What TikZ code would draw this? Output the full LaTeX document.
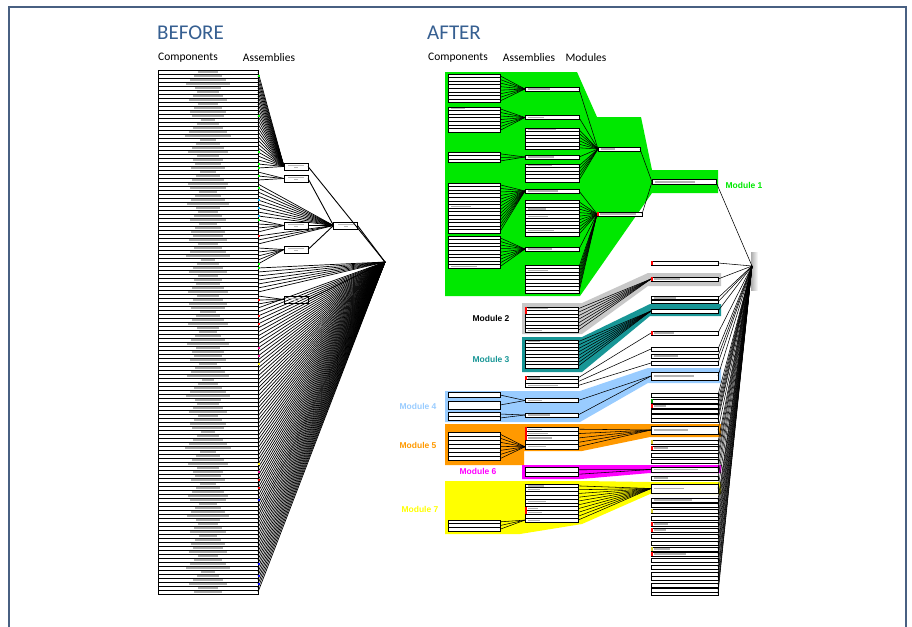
\documentclass[tikz,border=0pt]{standalone}
\usepackage{fontspec}
\setmainfont{Carlito}
\newfontfamily\modfont{Liberation Sans}
\usepackage{xcolor}
\usepackage{tikz}
\usetikzlibrary{positioning,calc}
\definecolor{titleblue}{RGB}{54,95,145}
\definecolor{framec}{RGB}{72,96,130}
\definecolor{modgreen}{RGB}{0,232,0}
\definecolor{modgray}{RGB}{200,200,200}
\definecolor{modteal}{RGB}{24,150,150}
\definecolor{modblue}{RGB}{153,204,255}
\definecolor{modorange}{RGB}{255,153,0}
\definecolor{modmagenta}{RGB}{255,0,255}
\definecolor{modyellow}{RGB}{255,255,0}
\tikzset{
  part/.style={draw=black, line width=0.8pt, fill=white, minimum width=#1,
               minimum height=4, inner sep=0pt, outer sep=0pt, anchor=north west},
  part/.default=52,
  asm/.style={draw=black, line width=0.7pt, fill=white, minimum width=24,
              minimum height=7, inner sep=0pt, outer sep=0pt},
  wire/.style={line width=0.55pt},
  fanwire/.style={line width=0.7pt},
  title/.style={font=\fontsize{21}{24}\selectfont, text=titleblue, anchor=west, inner sep=0pt},
  head/.style={font=\fontsize{11.5}{13}\selectfont, inner sep=0pt},
  modlabel/.style={font=\modfont\bfseries\fontsize{8.5}{10}\selectfont, text=#1, inner sep=0pt},
}
% stack of parts: name, x, top, count, width, row height
\newcommand{\partstack}[6]{%
  \foreach \k in {1,...,#4}{%
    \node[part=#5, minimum height=#6] (#1\k) at (#2,{#3+(\k-1)*#6}) {};}}

\begin{document}
\begin{tikzpicture}[x=1pt, y=-1pt]
\useasboundingbox (0,0) rectangle (912,626);

% Frame
\draw[framec, line width=1.3pt] (9,640) -- (9,7) -- (906,7) -- (906,640);

% Titles
\node[title] (tb) at (157,33) {BEFORE};
\node[title] (ta) at (427,33) {AFTER};
\node[head] (hb1) at (188,57.5) {Components};
\node[head] (hb2) at (269,57.5) {Assemblies};
\node[head] (ha1) at (458,57.5) {Components};
\node[head] (ha2) at (529,57.5) {Assemblies};
\node[head] (ha3) at (586,57.5) {Modules};

% ---------------- BEFORE ----------------
\foreach \i in {1,...,131}{
  \node[part=100] (b\i) at (158,{70+(\i-1)*4}) {};
  \pgfmathsetmacro{\w}{6+mod(\i*29,13)+mod(\i*7,6)}
  \fill[gray!60] ({208-\w},{71.4+(\i-1)*4}) rectangle ({208+\w},{72.6+(\i-1)*4});
}
\node[asm] (ba1) at (296,166.5) {};
\node[asm] (ba2) at (296,178.5) {};
\node[asm] (ba3) at (296,225.5) {};
\node[asm] (ba4) at (296,249.5) {};
\node[asm] (ba5) at (296,299.5) {};
\node[asm] (bmod) at (345.5,225.5) {};
\coordinate (bhub) at (385,262);

\foreach \i in {1,...,25} \draw[fanwire] (b\i.east) -- (ba1.west);
\foreach \i in {26,...,28} \draw[fanwire] (b\i.east) -- (ba2.west);
\foreach \i in {29,...,37} \draw[fanwire] (b\i.east) -- (bmod.west);
\foreach \i in {38,...,41} \draw[fanwire] (b\i.east) -- (ba3.west);
\foreach \i in {42,...,44} \draw[fanwire] (b\i.east) -- (bmod.west);
\foreach \i in {45,...,49} \draw[fanwire] (b\i.east) -- (ba4.west);
\foreach \i in {50,...,56} \draw[fanwire] (b\i.east) -- (bhub);
\foreach \i in {57,...,59} \draw[fanwire] (b\i.east) -- (ba5.west);
\foreach \i in {60,...,131} \draw[fanwire] (b\i.east) -- (bhub);
\draw[wire, line width=0.9pt] (ba1.east) -- (bhub);
\draw[wire, line width=0.9pt] (ba2.east) -- (bmod.west);
\draw[wire, line width=0.9pt] (ba3.east) -- (bmod.west);
\draw[wire, line width=0.9pt] (ba4.east) -- (bmod.west);
\draw[wire, line width=0.9pt] (bmod.east) -- (bhub);
\draw[wire, line width=0.9pt] (ba5.east) -- (bhub);
\foreach \n in {ba1,ba2,ba3,ba4,ba5,bmod}{
  \fill[gray!55] ([xshift=-8pt,yshift=1.6pt]\n.center) rectangle ([xshift=8pt,yshift=0.7pt]\n.center);
  \fill[gray!55] ([xshift=-2pt,yshift=-0.8pt]\n.center) rectangle ([xshift=2pt,yshift=-1.6pt]\n.center);
}

% markers
\foreach \i/\c in {2/green,12/green,21/green,24/green,25/green,27/green,30/green,33/cyan,35/cyan,37/cyan,
                   38/green,42/red,49/green,50/green,58/red,62/red,64/red,70/magenta,72/magenta,74/yellow,
                   99/yellow,101/magenta,103/red,105/red,108/blue,124/blue,127/blue,129/blue}
  \fill[\c] ([yshift=-1.2pt]b\i.east) rectangle ([xshift=1.6pt, yshift=1.2pt]b\i.east);

% ---------------- AFTER ----------------
% Module areas
\fill[modgreen] (445,72) -- (577,72) -- (597,117) -- (641,117) -- (652,170) -- (718,170)
  -- (718,193) -- (652,193) -- (580,296) -- (445,296) -- cycle;
\fill[modgray] (522,303) -- (582,303) -- (648,273) -- (721,273) -- (721,286) -- (648,286)
  -- (582,334) -- (522,334) -- cycle;
\fill[modteal] (522,337) -- (582,337) -- (650,304) -- (721,304) -- (721,316) -- (650,316)
  -- (582,372) -- (522,372) -- cycle;
\fill[modblue] (445,391) -- (580,391) -- (648,368) -- (721,368) -- (721,383) -- (648,383)
  -- (580,422) -- (445,422) -- cycle;
\fill[modorange] (445,424) -- (721,424) -- (721,437) -- (650,437) -- (582,451) -- (524,451)
  -- (524,465) -- (445,465) -- cycle;
\fill[modmagenta] (522,465) -- (721,465) -- (721,473) -- (650,473) -- (581,479) -- (522,479) -- cycle;
\fill[modyellow] (445,481) -- (582,481) -- (650,482) -- (721,482) -- (721,494) -- (650,494)
  -- (582,524) -- (520,534) -- (445,534) -- cycle;

% Hub
\shade[left color=gray!65, right color=white] (751,252) rectangle (758,290);
\coordinate (hub) at (752,266);

% Module 1: components
\partstack{ca}{448}{74}{8}{52}{3.6}
\partstack{cb}{448}{107}{7}{52}{3.6}
\partstack{cc}{448}{152}{3}{52}{3.6}
\partstack{cd}{448}{183}{14}{52}{3.6}
\partstack{ce}{448}{236}{9}{52}{3.6}
% Module 1: assemblies
\node[part=54] (aa) at (525,87) {};
\node[part=54] (ab) at (525,115.5) {};
\partstack{xa}{525}{128}{6}{54}{3.6}
\node[part=54] (ac) at (525,155) {};
\partstack{xb}{525}{164}{5}{54}{3.6}
\node[part=54] (ad) at (525,189) {};
\partstack{xc}{525}{200}{10}{54}{3.6}
\node[part=54] (ae) at (525,247) {};
\partstack{xd}{525}{265}{8}{54}{3.6}
% Module 1: sub-modules and module
\node[part=42] (suba) at (598,147) {};
\node[part=45] (subb) at (597,212) {};
\node[part=64, minimum height=5] (mod1) at (652,179.5) {};

% Modules 2 to 7
\partstack{gr}{525}{307}{7}{53}{3.6}
\partstack{te}{525}{340}{8}{53}{3.5}
\partstack{lo}{525}{376}{3}{53}{3.8}
\node[part=52, minimum height=5] (bla) at (448,392.5) {};
\node[part=52, minimum height=8] (blb) at (448,401) {};
\partstack{blc}{448}{412}{2}{52}{4}
\node[part=53] (blx) at (525,398.5) {};
\node[part=53] (bly) at (525,413) {};
\partstack{oc}{448}{432}{7}{52}{4.1}
\partstack{oa}{525}{427}{5}{53}{4.4}
\partstack{pa}{525}{467.5}{2}{53}{4.5}
\partstack{ya}{525}{484}{10}{53}{3.8}
\partstack{yc}{448}{520}{3}{52}{3.7}

% Right column
\foreach \n/\y/\h in {rb1/261/4, rb2/277/4, rb3/296/3.8, rb4/300/3.8, rb5/309/4, rb6/331/4,
    rb7/347/4, rb8/354/4, rb9/361/4, rb10/372/8, rb11/393/4, rb12/399/4, rb13/404/4,
    rb14/409/4, rb15/414/4, rb16/418/4, rb17/426/8, rb18/440/4, rb19/446/4, rb20/453/4,
    rb21/459/4, rb22/467/5, rb23/476/4, rb24/484/9, rb25/498/4, rb26/503/4, rb27/509/4,
    rb28/516/4, rb29/522/4, rb30/528/4, rb31/534/4, rb32/541/4, rb33/547/4, rb34/552/4,
    rb35/558/4, rb36/565/4, rb37/572/4, rb38/576/4, rb39/583/4, rb40/588/4, rb41/592/3}
  \node[part=67, minimum height=\h] (\n) at (651,\y) {};

% text marks in labelled boxes
\foreach \n/\l in {aa/22, ab/16, ac/26, ad/30, ae/24, suba/14, subb/36, mod1/40, xa1/28, xb1/24,
    xc3/18, xc5/20, xc9/26, xd2/20, cb1/14, cd7/20, ce9/26, gr1/20, gr7/14, te1/12, lo1/12, lo3/30,
    blx/14, bly/22, oa1/14, oa2/20, oa3/24, oa5/18, ya1/16, ya2/12, ya5/18, ya7/10, ya8/14, ya10/12,
    rb2/26, rb3/22, rb6/20, rb8/24, rb10/40, rb13/12, rb17/34, rb19/14, rb22/44, rb23/14, rb24/30,
    rb25/38, rb29/14, rb30/12, rb33/16, rb34/32}
  \fill[gray!60] ([xshift=2.5pt,yshift=-0.6pt]\n.west) rectangle ([xshift=2.5pt+\l pt,yshift=0.6pt]\n.west);

% Module labels
\node[modlabel=modgreen] (l1) at (744,185) {Module 1};
\node[modlabel=black] (l2) at (491,318) {Module 2};
\node[modlabel=modteal] (l3) at (491,359) {Module 3};
\node[modlabel=modblue] (l4) at (418,406) {Module 4};
\node[modlabel=modorange] (l5) at (418,445) {Module 5};
\node[modlabel=modmagenta] (l6) at (478,471) {Module 6};
\node[modlabel=modyellow] (l7) at (420,509) {Module 7};

% Module 1 wires
\foreach \k in {1,...,8} \draw[wire] (ca\k.east) -- (aa.west);
\foreach \k in {1,...,7} \draw[wire] (cb\k.east) -- (ab.west);
\foreach \k in {1,...,3} \draw[wire] (cc\k.east) -- (ac.west);
\foreach \k in {1,...,14} \draw[wire] (cd\k.east) -- (ad.west);
\foreach \k in {1,...,9} \draw[wire] (ce\k.east) -- (ae.west);
\foreach \n in {aa,ab,ac} \draw[wire] (\n.east) -- (suba.west);
\foreach \k in {1,...,6} \draw[wire] (xa\k.east) -- (suba.west);
\foreach \k in {1,...,5} \draw[wire] (xb\k.east) -- (suba.west);
\foreach \n in {ad,ae} \draw[wire] (\n.east) -- (subb.west);
\foreach \k in {1,...,10} \draw[wire] (xc\k.east) -- (subb.west);
\foreach \k in {1,...,8} \draw[wire] (xd\k.east) -- (subb.west);
\draw[wire] (suba.east) -- (mod1.west);
\draw[wire] (subb.east) -- (mod1.west);
\draw[wire] (mod1.east) -- (hub);

% Modules 2 to 7 wires
\foreach \k in {1,...,7} \draw[wire] (gr\k.east) -- (rb2.west);
\foreach \k in {1,...,8} \draw[wire] (te\k.east) -- (rb5.west);
\draw[wire] (lo1.east) -- (rb6.west);
\draw[wire] (lo2.east) -- (rb7.west);
\draw[wire] (lo3.east) -- (rb9.west);
\draw[wire] (bla.east) -- (blx.west);
\draw[wire] (blb.east) -- (blx.west);
\draw[wire] (blc1.east) -- (bly.west);
\draw[wire] (blc2.east) -- (bly.west);
\draw[wire] (blx.east) -- (rb10.west);
\draw[wire] (bly.east) -- (rb10.west);
\foreach \k in {1,...,7} \draw[wire] (oc\k.east) -- (oa5.west);
\foreach \k in {1,...,5} \draw[wire] (oa\k.east) -- (rb17.west);
\foreach \k in {1,2} \draw[wire] (pa\k.east) -- (rb22.west);
\foreach \k in {1,...,3} \draw[wire] (yc\k.east) -- (ya10.west);
\foreach \k in {1,...,10} \draw[wire] (ya\k.east) -- (rb24.west);
\foreach \k in {1,...,41} \draw[wire] (rb\k.east) -- (hub);

% markers
\foreach \n/\c in {subb/red, rb1/red, rb2/red, rb6/red, rb12/green!60!black, rb13/red, rb18/yellow!80!black,
                   rb19/red, rb27/yellow!80!black, rb29/red, rb30/red, rb33/yellow!80!black, rb34/red,
                   gr1/red, gr2/red, lo1/red, oa1/red, oa2/red, oa3/red, ya7/red, ya8/red}
  \fill[\c] (\n.north west) rectangle ([xshift=1.6pt]\n.south west);

\end{tikzpicture}
\end{document}
